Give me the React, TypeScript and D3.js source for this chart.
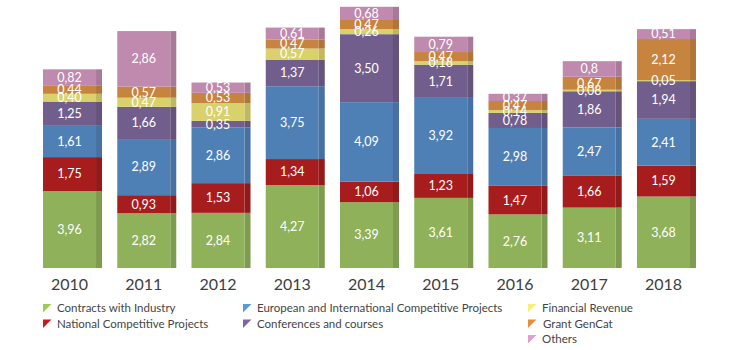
import { useEffect, useRef } from 'react';
import * as d3 from 'd3';

// Income by source, per year
const years = ['2010', '2011', '2012', '2013', '2014', '2015', '2016', '2017', '2018'];

const industry = [3.96, 2.82, 2.84, 4.27, 3.39, 3.61, 2.76, 3.11, 3.68];
const national = [1.75, 0.93, 1.53, 1.34, 1.06, 1.23, 1.47, 1.66, 1.59];
const european = [1.61, 2.89, 2.86, 3.75, 4.09, 3.92, 2.98, 2.47, 2.41];
const conferences = [1.25, 1.66, 0.35, 1.37, 3.5, 1.71, 0.78, 1.86, 1.94];
const financial = [0.4, 0.47, 0.91, 0.57, 0.26, 0.18, 0.14, 0.08, 0.05];
const gencat = [0.44, 0.57, 0.53, 0.47, 0.47, 0.47, 0.47, 0.67, 2.12];
const others = [0.82, 2.86, 0.53, 0.61, 0.68, 0.79, 0.37, 0.8, 0.51];

const seriesNames = [
  'Contracts with Industry',
  'National Competitive Projects',
  'European and International Competitive Projects',
  'Conferences and courses',
  'Financial Revenue',
  'Grant GenCat',
  'Others',
];

const barColors = ['#8fb15a', '#a71d1e', '#4f80b5', '#725e8c', '#d8d16c', '#c7843f', '#c089ae'];
const legendColors = ['#9ccb5c', '#c8191c', '#5b9bd5', '#8166a6', '#f6ef7c', '#e98c3a', '#dea0cd'];

// label as printed in the source (one value shows a single decimal)
const fmt = (v: number) => (v === 0.8 ? '0,8' : v.toFixed(2).replace('.', ','));

export default function App() {
  const svgRef = useRef<SVGSVGElement>(null);

  useEffect(() => {
    if (!svgRef.current) return;
    document.body.style.margin = '0';

    const width = 740;
    const height = 350;
    const baseline = 268;

    const svg = d3.select(svgRef.current);
    svg.selectAll('*').remove();
    svg.attr('width', width).attr('height', height);

    const values = [industry, national, european, conferences, financial, gencat, others];
    const rows = years.map((y, i) => {
      const r: any = { year: y };
      values.forEach((v, k) => (r['s' + k] = v[i]));
      return r;
    });
    const keys = values.map((_, k) => 's' + k);
    const stacked = d3.stack().keys(keys)(rows);

    const x = d3
      .scaleBand()
      .domain(years)
      .range([32.4, 700.6])
      .paddingInner(0.286)
      .paddingOuter(0.143);

    const y = d3.scaleLinear().domain([0, 13.8]).range([baseline, 0]);

    const side = 6;
    const g = svg.append('g');

    stacked.forEach((layer, k) => {
      const col = barColors[k];
      const dark = d3.color(col)!.darker(0.35).formatHex();
      const lg = g.append('g');

      // side faces
      lg.selectAll('rect.side')
        .data(layer)
        .enter()
        .append('rect')
        .attr('class', 'side')
        .attr('x', (d: any) => x(d.data.year)! + x.bandwidth())
        .attr('y', (d) => y(d[1]))
        .attr('width', side)
        .attr('height', (d) => y(d[0]) - y(d[1]))
        .attr('fill', dark);

      // front faces
      lg.selectAll('rect.front')
        .data(layer)
        .enter()
        .append('rect')
        .attr('class', 'front')
        .attr('x', (d: any) => x(d.data.year)!)
        .attr('y', (d) => y(d[1]))
        .attr('width', x.bandwidth())
        .attr('height', (d) => y(d[0]) - y(d[1]))
        .attr('fill', col);
    });

    // value labels
    stacked.forEach((layer, k) => {
      g.append('g')
        .selectAll('text')
        .data(layer)
        .enter()
        .append('text')
        .attr('x', (d: any) => x(d.data.year)! + x.bandwidth() / 2)
        .attr('y', (d) => (y(d[0]) + y(d[1])) / 2)
        .attr('dy', '0.35em')
        .attr('text-anchor', 'middle')
        .attr('fill', '#ffffff')
        .attr('font-family', 'Lato, sans-serif')
        .attr('font-size', '12.5px')
        .text((_, i) => fmt(values[k][i]));
    });

    // year axis labels
    const xAxis = g
      .append('g')
      .attr('transform', `translate(0,${baseline})`)
      .call(d3.axisBottom(x).tickSize(0).tickPadding(11));
    xAxis.select('.domain').remove();
    xAxis
      .selectAll('text')
      .attr('fill', '#404040')
      .attr('font-family', 'Lato, sans-serif')
      .attr('font-size', '16px');

    // legend
    const legendCols = [
      { x: 43, items: [0, 1] },
      { x: 243, items: [2, 3] },
      { x: 528, items: [4, 5, 6] },
    ];
    const legend = svg.append('g');
    legendCols.forEach((c) => {
      c.items.forEach((idx, r) => {
        const cy = 308 + r * 15.5;
        legend
          .append('path')
          .attr('d', `M${c.x},${cy - 4}L${c.x + 8.5},${cy - 4}L${c.x},${cy + 4.5}Z`)
          .attr('fill', legendColors[idx]);
        legend
          .append('text')
          .attr('x', c.x + 14 + (idx === 5 ? 1 : 0))
          .attr('y', cy)
          .attr('dy', '0.35em')
          .attr('fill', '#454545')
          .attr('font-family', 'Lato, sans-serif')
          .attr('font-size', '11.5px')
          .text(seriesNames[idx]);
      });
    });
  }, []);

  return (
    <div style={{ width: 740, height: 350, background: '#fff' }}>
      <svg ref={svgRef} style={{ display: 'block' }} />
    </div>
  );
}
